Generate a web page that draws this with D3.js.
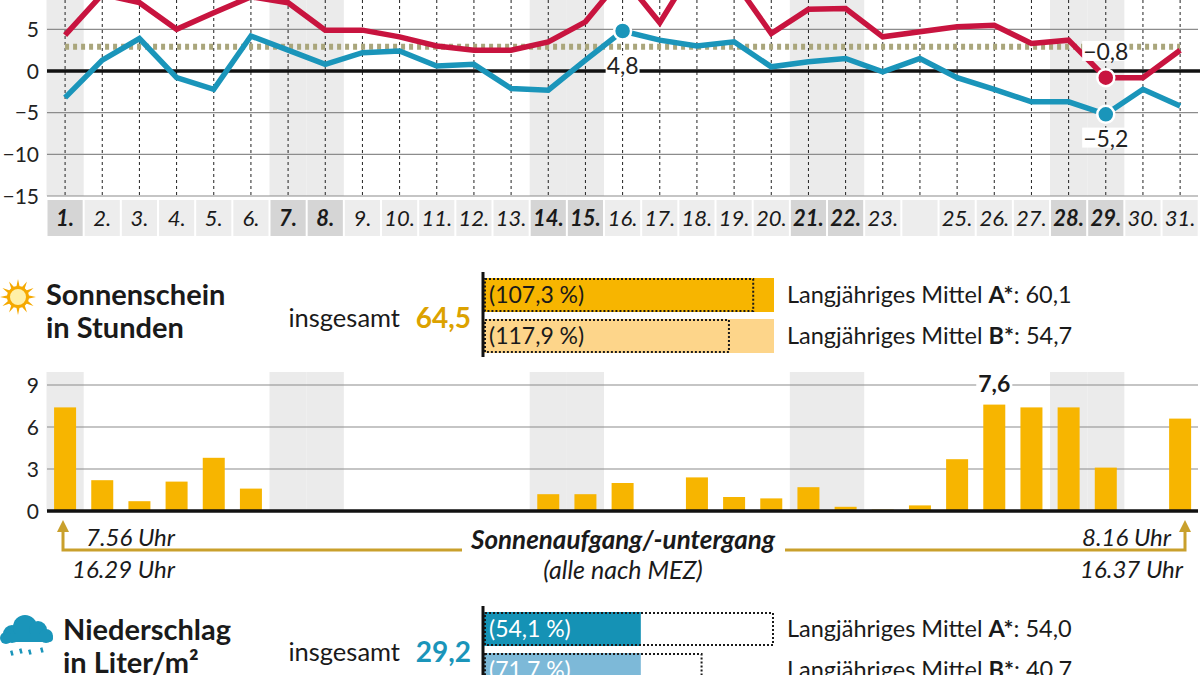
<!DOCTYPE html>
<html><head><meta charset="utf-8">
<script src="https://cdn.jsdelivr.net/npm/d3@7/dist/d3.min.js"></script>
<style>
html,body{margin:0;padding:0;background:#fff;}
svg{display:block;font-family:Lato,"Source Sans Pro","Noto Sans",sans-serif;}
</style></head><body>
<svg id="c" width="1200" height="675"></svg>
<script>
// ---------- data ----------
const days = d3.range(1, 32);
const dayLabels = ["1.","2.","3.","4.","5.","6.","7.","8.","9.","10.","11.","12.","13.","14.","15.","16.","17.","18.","19.","20.","21.","22.","23.","","25.","26.","27.","28.","29.","30.","31."];
const weekendDays = [1,7,8,14,15,21,22,28,29];
const tempMax = [4.3,9.2,8.2,5.0,7.0,8.9,8.2,4.9,4.9,4.1,3.0,2.5,2.5,3.5,5.9,11.3,5.8,13.0,10.8,4.5,7.4,7.5,4.1,4.7,5.3,5.5,3.3,3.7,-0.8,-0.8,2.5];
const tempMin = [-3.2,1.3,3.9,-0.8,-2.2,4.2,2.5,0.8,2.2,2.4,0.6,0.8,-2.1,-2.3,1.3,4.8,3.7,3.0,3.5,0.5,1.1,1.5,-0.1,1.5,-0.8,-2.2,-3.7,-3.7,-5.2,-2.2,-4.2];
const tempMeanLongterm = [2.9];
const tempTicks = [5,0,-5,-10,-15];
const tempGrid = [15,10,5,-5,-10,-15];
const tempMarks = [
  {series:"min", day:16},
  {series:"max", day:29},
  {series:"min", day:29}
];
const sunHours = [7.4,2.2,0.7,2.1,3.8,1.6,0,0,0,0,0,0,0,1.2,1.2,2.0,0,2.4,1.0,0.9,1.7,0.3,0.1,0.4,3.7,7.6,7.4,7.4,3.1,0,6.6];
const sunTicks = [0,3,6,9];
const sunMaxDay = [26];
const sunTimes = ["7.56 Uhr","16.29 Uhr","8.16 Uhr","16.37 Uhr"];
const meanKeys = ["A","B"];
const sunTotal = 64.5;
const sunMeans = [60.1, 54.7];
const rainTotal = 29.2;
const rainMeans = [54.0, 40.7];

// label offsets (layout only)
const markLabelDy = [35, -26, 24];

// ---------- helpers ----------
const svg = d3.select("#c");
const fmt = v => (v < 0 ? "\u2212" : "") + Math.abs(v).toFixed(1).replace(".", ",");
const fmtInt = v => (v < 0 ? "\u2212" : "") + Math.abs(v);
const isWE = d => weekendDays.includes(d);
const INK = "#1a1a1a";

const x = d3.scaleBand().domain(days).range([46.5, 1198.7]).padding(0);
const xc = d => x(d) + x.bandwidth() / 2;

// ---------- temperature chart ----------
const yT = d3.scaleLinear().domain([-15, 15]).range([196, -54]);
const gT = svg.append("g");

gT.selectAll("rect.we").data(weekendDays).join("rect")
  .attr("x", d => x(d)).attr("width", x.bandwidth())
  .attr("y", yT(15)).attr("height", yT(-15) - yT(15))
  .attr("fill", "#ebebeb");

gT.selectAll("line.grid").data(tempGrid).join("line")
  .attr("x1", 47).attr("x2", 1198).attr("y1", d => yT(d)).attr("y2", d => yT(d))
  .attr("stroke", "#8c8c8c").attr("stroke-width", 1.2);

gT.selectAll("line.vd").data(days).join("line")
  .attr("x1", d => xc(d)).attr("x2", d => xc(d))
  .attr("y1", yT(15)).attr("y2", yT(-15))
  .attr("stroke", "#222").attr("stroke-width", 1).attr("stroke-dasharray", "3,3");

gT.append("line").attr("x1", 47).attr("x2", 1200).attr("y1", yT(0)).attr("y2", yT(0))
  .attr("stroke", "#111").attr("stroke-width", 3.5);

gT.selectAll("text.yt").data(tempTicks).join("text")
  .attr("x", 39).attr("y", d => yT(d)).attr("dy", "0.36em")
  .attr("text-anchor", "end").attr("font-size", 21).attr("fill", "#222")
  .text(fmtInt);

gT.selectAll("line.mean").data(tempMeanLongterm).join("line")
  .attr("x1", xc(1)).attr("x2", xc(31)).attr("y1", d => yT(d)).attr("y2", d => yT(d))
  .attr("stroke", "#aaa67c").attr("stroke-width", 6).attr("stroke-dasharray", "4,4");

const line = d3.line().x((v, i) => xc(days[i])).y(v => yT(v));
gT.append("path").attr("d", line(tempMax)).attr("fill", "none")
  .attr("stroke", "#c8143f").attr("stroke-width", 5.5);
gT.append("path").attr("d", line(tempMin)).attr("fill", "none")
  .attr("stroke", "#1a95ba").attr("stroke-width", 5.5);

tempMarks.forEach((m, k) => {
  const arr = m.series === "max" ? tempMax : tempMin;
  const v = arr[m.day - 1];
  const col = m.series === "max" ? "#c8143f" : "#1a95ba";
  const cx = xc(m.day), cy = yT(v);
  gT.append("circle").attr("cx", cx).attr("cy", cy).attr("r", 8.5)
    .attr("fill", col).attr("stroke", "#fff").attr("stroke-width", 2.5);
  const t = gT.append("text").attr("x", cx).attr("y", cy + markLabelDy[k]).attr("dy", "0.36em")
    .attr("text-anchor", "middle").attr("font-size", 23).attr("fill", "#222").text(fmt(v));
  const bb = t.node().getBBox();
  gT.insert("rect", () => t.node()).attr("x", bb.x - 1).attr("y", bb.y + 4)
    .attr("width", bb.width + 2).attr("height", bb.height - 8).attr("fill", "#fff");
});

// day labels row
const gL = svg.append("g");
gL.selectAll("rect").data(days).join("rect")
  .attr("x", d => x(d) + 1).attr("width", x.bandwidth() - 2)
  .attr("y", 200).attr("height", 36)
  .attr("fill", d => isWE(d) ? "#d5d5d5" : "#ededed");
gL.selectAll("text").data(days).join("text")
  .attr("x", d => xc(d)).attr("y", 218).attr("dy", "0.36em")
  .attr("text-anchor", "middle").attr("font-size", 22).attr("font-style", "italic")
  .attr("font-weight", d => isWE(d) ? "bold" : "normal").attr("fill", INK)
  .text((d, i) => dayLabels[i]);

// ---------- summary bars ----------
function summary(y0, total, means, colors, totalColor, textColor) {
  const g = svg.append("g");
  const maxV = d3.max([total, ...means]);
  const s = d3.scaleLinear().domain([0, maxV]).range([0, 290]);
  const bx = 484;
  means.forEach((m, i) => {
    const by = y0 + 6 + i * 41, bh = 34;
    g.append("rect").attr("x", bx).attr("y", by).attr("width", s(total)).attr("height", bh).attr("fill", colors[i]);
    g.append("rect").attr("x", bx + 1).attr("y", by + 1).attr("width", s(m) - 2).attr("height", bh - 2)
      .attr("fill", "none").attr("stroke", INK).attr("stroke-width", 2).attr("stroke-dasharray", "2,2");
    const pct = (total / m * 100).toFixed(1).replace(".", ",");
    g.append("text").attr("x", bx + 5).attr("y", by + bh / 2).attr("dy", "0.36em")
      .attr("font-size", 23).attr("fill", textColor).text("(" + pct + "\u202F%)");
    const lt = g.append("text").attr("x", 787).attr("y", by + bh / 2).attr("dy", "0.36em")
      .attr("font-size", 23.5).attr("fill", INK);
    lt.append("tspan").text("Langjähriges Mittel ");
    lt.append("tspan").attr("font-weight", "bold").text(meanKeys[i] + "*");
    lt.append("tspan").text(": " + m.toFixed(1).replace(".", ","));
  });
  g.append("line").attr("x1", bx - 1).attr("x2", bx - 1).attr("y1", y0).attr("y2", y0 + 85)
    .attr("stroke", "#111").attr("stroke-width", 3);
  g.append("text").attr("x", 400).attr("y", y0 + 46).attr("dy", "0.36em").attr("text-anchor", "end")
    .attr("font-size", 25.5).attr("fill", INK).text("insgesamt");
  g.append("text").attr("x", 471).attr("y", y0 + 46).attr("dy", "0.36em").attr("text-anchor", "end")
    .attr("font-size", 28).attr("font-weight", "bold").attr("fill", totalColor).text(total.toFixed(1).replace(".", ","));
  return g;
}

// Sunshine summary
const gS = summary(272, sunTotal, sunMeans, ["#f7b500", "#fdd58a"], "#dca200", INK);
gS.append("text").attr("x", 46).attr("y", 295).attr("dy", "0.36em").attr("font-size", 29)
  .attr("font-weight", "bold").attr("fill", INK).text("Sonnenschein");
gS.append("text").attr("x", 46).attr("y", 328).attr("dy", "0.36em").attr("font-size", 29)
  .attr("font-weight", "bold").attr("fill", INK).text("in Stunden");
const sun = gS.append("g").attr("transform", "translate(18,297)");
d3.range(12).forEach(i => {
  const a = i * Math.PI / 6;
  const p = [[Math.cos(a - 0.22) * 9, Math.sin(a - 0.22) * 9], [Math.cos(a) * 18, Math.sin(a) * 18], [Math.cos(a + 0.22) * 9, Math.sin(a + 0.22) * 9]];
  sun.append("path").attr("d", d3.line()(p) + "Z").attr("fill", "#f5a900");
});
sun.append("circle").attr("r", 9.5).attr("fill", "#fff0a8").attr("stroke", "#f5a900").attr("stroke-width", 3);

// ---------- sunshine daily bars ----------
const yS = d3.scaleLinear().domain([0, 9]).range([511, 385]);
const gB = svg.append("g");
gB.selectAll("rect.we").data(weekendDays).join("rect")
  .attr("x", d => x(d)).attr("width", x.bandwidth())
  .attr("y", 372).attr("height", 511 - 372).attr("fill", "#ebebeb");
gB.selectAll("line.grid").data(sunTicks.filter(t => t > 0)).join("line")
  .attr("x1", 47).attr("x2", 1198).attr("y1", d => yS(d)).attr("y2", d => yS(d))
  .attr("stroke", "#8c8c8c").attr("stroke-width", 1.2);
gB.selectAll("text.yt").data(sunTicks).join("text")
  .attr("x", 39).attr("y", d => yS(d)).attr("dy", "0.36em")
  .attr("text-anchor", "end").attr("font-size", 21).attr("fill", "#222").text(d => d);
gB.selectAll("rect.bar").data(sunHours).join("rect")
  .attr("x", (v, i) => xc(days[i]) - 11).attr("width", 22)
  .attr("y", v => yS(v)).attr("height", v => yS(0) - yS(v)).attr("fill", "#f7b500");
gB.append("line").attr("x1", 47).attr("x2", 1198).attr("y1", yS(0)).attr("y2", yS(0))
  .attr("stroke", "#111").attr("stroke-width", 3.5);
sunMaxDay.forEach(d => {
  const v = sunHours[d - 1];
  const t = gB.append("text").attr("x", xc(d)).attr("y", yS(v) - 21).attr("dy", "0.36em")
    .attr("text-anchor", "middle").attr("font-size", 23).attr("font-weight", "bold").attr("fill", INK).text(fmt(v));
  const bb = t.node().getBBox();
  gB.insert("rect", () => t.node()).attr("x", bb.x - 2).attr("y", bb.y + 5)
    .attr("width", bb.width + 4).attr("height", bb.height - 10).attr("fill", "#fff");
});

// sunrise/sunset annotation
const gold = "#c9a02c";
const aL = 63, aR = 1185, aY = 550, aTop = 520;
gB.append("path").attr("d", `M${aL},${aTop + 8} L${aL},${aY} L462,${aY}`).attr("fill", "none").attr("stroke", gold).attr("stroke-width", 3);
gB.append("path").attr("d", `M785,${aY} L${aR},${aY} L${aR},${aTop + 8}`).attr("fill", "none").attr("stroke", gold).attr("stroke-width", 3);
[aL, aR].forEach(ax => {
  gB.append("path").attr("d", `M${ax - 6},${aTop + 12} L${ax},${aTop} L${ax + 6},${aTop + 12} Z`).attr("fill", gold);
});
const itxt = (xx, yy, anchor, str, bold) => gB.append("text").attr("x", xx).attr("y", yy).attr("dy", "0.36em")
  .attr("text-anchor", anchor).attr("font-size", bold ? 26 : 24).attr("font-style", "italic")
  .attr("font-weight", bold ? "bold" : "normal").attr("fill", INK).text(str);
itxt(86, 537, "start", sunTimes[0]);
itxt(72, 569, "start", sunTimes[1]);
itxt(1171, 537, "end", sunTimes[2]);
itxt(1183, 569, "end", sunTimes[3]);
itxt(623, 540, "middle", "Sonnenaufgang/-untergang", true);
gB.append("text").attr("x", 623).attr("y", 570).attr("dy", "0.36em").attr("text-anchor", "middle")
  .attr("font-size", 25).attr("font-style", "italic").attr("fill", INK).text("(alle nach MEZ)");

// ---------- precipitation summary ----------
const gR = summary(606, rainTotal, rainMeans, ["#1592b5", "#7db9d8"], "#1a95ba", "#ffffff");
gR.append("text").attr("x", 63).attr("y", 630).attr("dy", "0.36em").attr("font-size", 29)
  .attr("font-weight", "bold").attr("fill", INK).text("Niederschlag");
gR.append("text").attr("x", 63).attr("y", 663).attr("dy", "0.36em").attr("font-size", 29)
  .attr("font-weight", "bold").attr("fill", INK).text("in Liter/m²");
const cloud = gR.append("g").attr("fill", "#1a95ba");
[[12, 634, 9], [25, 627, 12], [38, 630, 9], [46, 636, 7], [6, 638, 6]].forEach(c => cloud.append("circle").attr("cx", c[0]).attr("cy", c[1]).attr("r", c[2]));
cloud.append("rect").attr("x", 1).attr("y", 634).attr("width", 52).attr("height", 8).attr("rx", 4);
[[10, 651], [19, 649], [28, 650], [40, 648]].forEach(p => cloud.append("rect").attr("x", p[0]).attr("y", p[1]).attr("width", 2.5).attr("height", 5).attr("transform", `rotate(-15,${p[0]},${p[1]})`));
</script>
</body></html>
